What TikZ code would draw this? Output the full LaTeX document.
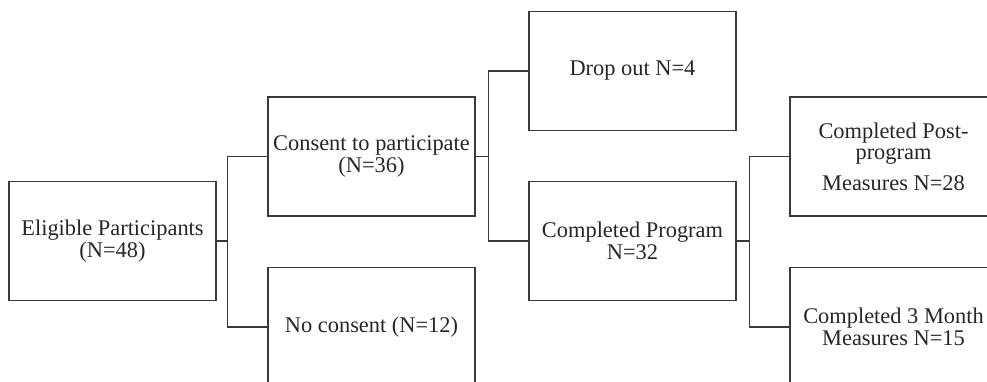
\documentclass[tikz,border=0pt]{standalone}
\usepackage{fontspec}
\setmainfont{Liberation Serif}
\usetikzlibrary{positioning}
\definecolor{linegray}{HTML}{3A3A3A}
\tikzset{every picture/.style={line width=1.1pt}}

\begin{document}
\begin{tikzpicture}[x=1pt,y=-1pt,
    flowbox/.style={draw=linegray, minimum width=207pt, minimum height=119pt,
      inner sep=2pt, align=center, text=black!85,
      font=\fontsize{22.4}{21.5}\selectfont},
    link/.style={draw=linegray}]
    % fester Rahmen
    \useasboundingbox (0,0) rectangle (987,382);
    \clip (0,0) rectangle (987,382);

    % Kasten
    \node[flowbox] (elig) at (112.5,241) {Eligible Participants\\(N=48)};
    \node[flowbox] (consent) at (371.5,156.5) {Consent to participate\\(N=36)};
    \node[flowbox] (nocons) at (371.5,327) {No consent (N=12)};
    \node[flowbox] (drop) at (632.5,71) {Drop out N=4};
    \node[flowbox] (prog) at (632.5,241) {Completed Program\\N=32};
    \node[flowbox] (post) at (893.5,156.5) {Completed Post-\\program\\[9pt]Measures N=28};
    \node[flowbox] (month) at (893.5,327) {Completed 3 Month\\Measures N=15};

    % Verbindungen
    \draw[link] (elig.east) -- ++(11,0) coordinate (j1);
    \draw[link] (consent.west) -| (j1) |- (nocons.west);
    \draw[link] (consent.east) -- ++(13,0) coordinate (j2);
    \draw[link] (drop.west) -| (j2) |- (prog.west);
    \draw[link] (prog.east) -- ++(13,0) coordinate (j3);
    \draw[link] (post.west) -| (j3) |- (month.west);
\end{tikzpicture}
\end{document}
